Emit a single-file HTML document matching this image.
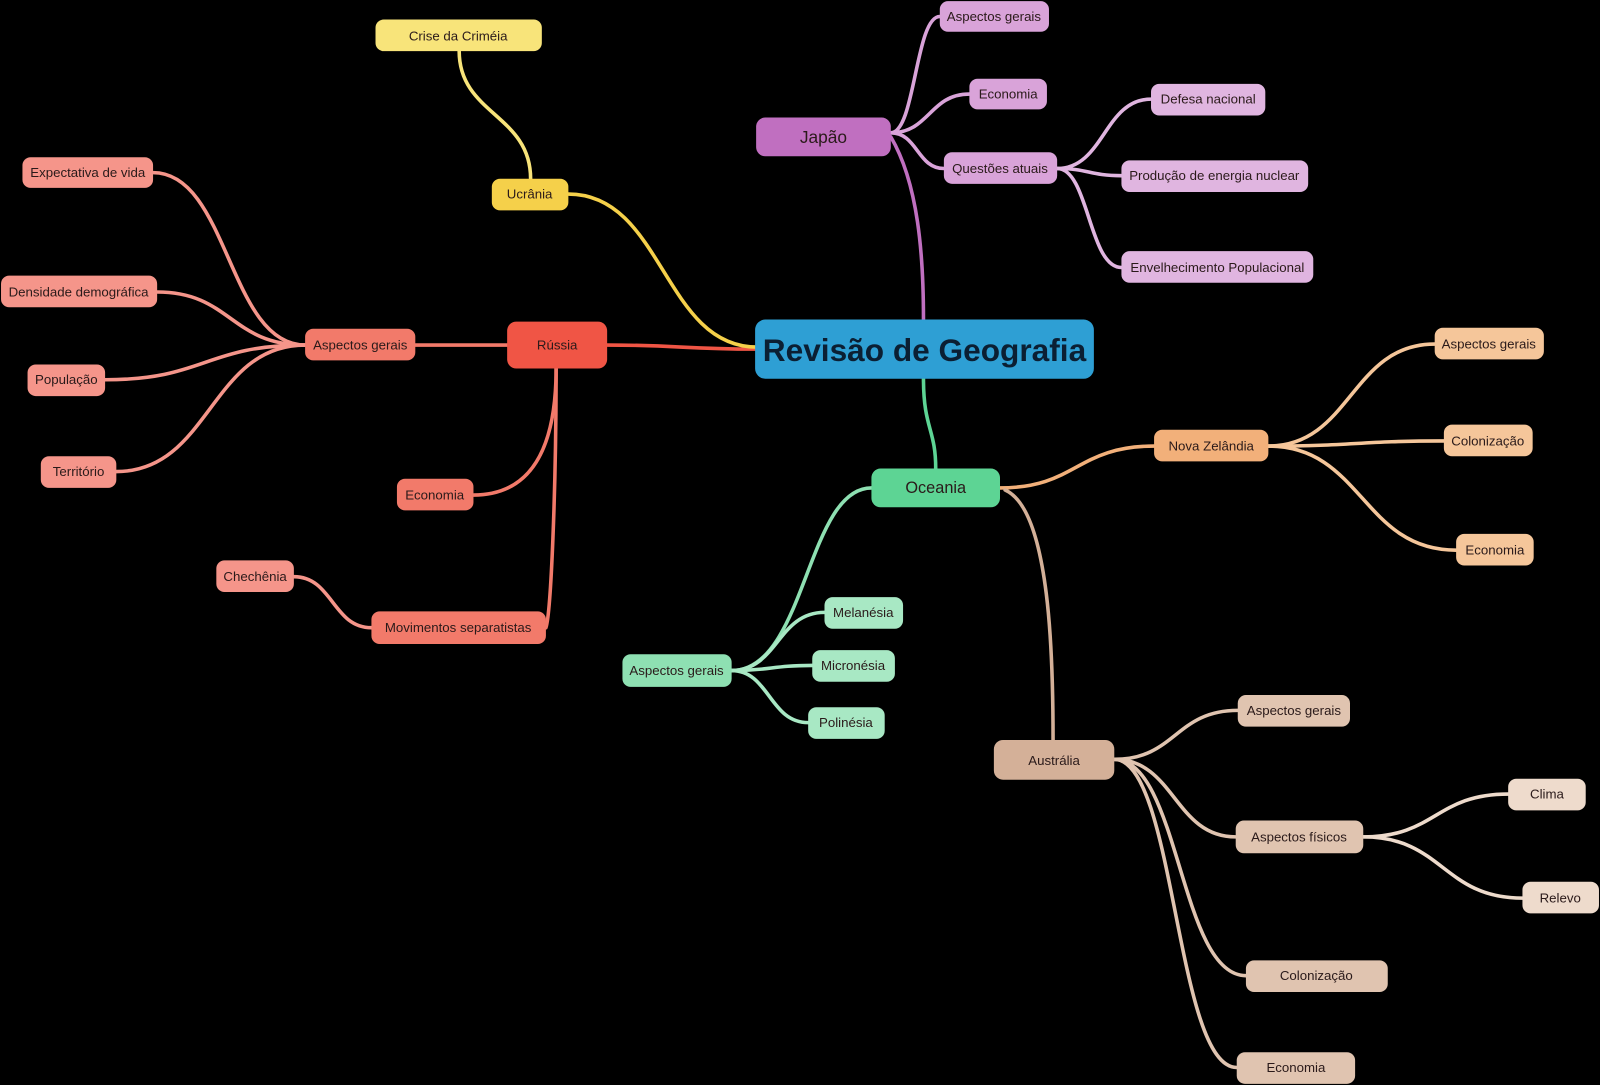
<!DOCTYPE html>
<html><head><meta charset="utf-8"><style>
html,body{margin:0;padding:0;background:#000;width:1600px;height:1085px;overflow:hidden}
text{font-family:"Liberation Sans",sans-serif;fill:#2a1a1a;text-anchor:middle;dominant-baseline:central;font-size:13px}
path{fill:none;stroke-width:3.5;stroke-linecap:round}
</style></head><body>
<svg width="1600" height="1085" viewBox="0 0 1568 1063" xmlns="http://www.w3.org/2000/svg">
<rect width="1568" height="1063" fill="#000"/>
<!-- edges -->
<path d="M595 338 C667 338 667 342 742 342" stroke="#f05545" stroke-width="4"/>
<path d="M557 190 C650 190 650 340 742 340" stroke="#f5d04a"/>
<path d="M450 50 C450 112 520 112 520 175" stroke="#f8e47a"/>
<path d="M873 134 C900 180 905 250 905 313" stroke="#c06fc0" stroke-width="4"/>
<path d="M873 130 C897 130 897 16 921 16" stroke="#d9a3d9"/>
<path d="M873 130 C911 130 911 92 950 92" stroke="#d9a3d9"/>
<path d="M873 130 C899 130 899 165 925 165" stroke="#d9a3d9"/>
<path d="M1036 165 C1082 165 1082 97 1128 97" stroke="#e0b5e0"/>
<path d="M1036 165 C1067 165 1067 172 1099 172" stroke="#e0b5e0"/>
<path d="M1036 165 C1067 165 1067 262 1099 262" stroke="#e0b5e0"/>
<path d="M497 338 L407 338" stroke="#f27a6a"/>
<path d="M299 338 C224 338 224 169 150 169" stroke="#f5958a"/>
<path d="M299 338 C226 338 226 286 154 286" stroke="#f5958a"/>
<path d="M299 338 C201 338 201 372 103 372" stroke="#f5958a"/>
<path d="M299 338 C206 338 206 462 114 462" stroke="#f5958a"/>
<path d="M545 361 C545 440 520 485 464 485" stroke="#f27a6a"/>
<path d="M545 361 C545 480 540 600 535 615" stroke="#f27a6a"/>
<path d="M364 615 C326 615 326 565 288 565" stroke="#f5958a"/>
<path d="M905 371 C905 420 917 420 917 459" stroke="#5dd494"/>
<path d="M854 478 C790 478 790 657 717 657" stroke="#8ee0b2"/>
<path d="M717 657 C762 657 762 600 808 600" stroke="#a8e8c4"/>
<path d="M717 657 C756 657 756 652 796 652" stroke="#a8e8c4"/>
<path d="M717 657 C754 657 754 708 792 708" stroke="#a8e8c4"/>
<path d="M980 478 C1055 478 1055 437 1131 437" stroke="#f2b07a" stroke-width="4"/>
<path d="M1243 437 C1324 437 1324 337 1406 337" stroke="#f5c69a"/>
<path d="M1243 437 C1329 437 1329 432 1415 432" stroke="#f5c69a"/>
<path d="M1243 437 C1335 437 1335 539 1427 539" stroke="#f5c69a"/>
<path d="M985 480 C1030 500 1032 650 1032 725" stroke="#d4b098"/>
<path d="M1092 744 C1152 744 1152 696 1213 696" stroke="#e0c4b0"/>
<path d="M1092 744 C1151 744 1151 820 1211 820" stroke="#e0c4b0"/>
<path d="M1092 744 C1156 744 1156 956 1221 956" stroke="#e0c4b0"/>
<path d="M1092 744 C1152 744 1152 1046 1212 1046" stroke="#e0c4b0"/>
<path d="M1336 820 C1407 820 1407 778 1478 778" stroke="#eedbcc"/>
<path d="M1336 820 C1414 820 1414 880 1492 880" stroke="#eedbcc"/>
<!-- nodes -->
<rect x="740" y="313" width="332" height="58" rx="10" fill="#2e9fd4"/>
<text x="906" y="343" style="font-size:31px;font-weight:bold;fill:#0b1f33">Revisão de Geografia</text>
<rect x="741" y="115" width="132" height="38" rx="9" fill="#c06fc0"/><text x="807" y="134" style="font-size:17px">Japão</text>
<rect x="921" y="1" width="107" height="30" rx="8" fill="#d9a3d9"/><text x="974" y="16">Aspectos gerais</text>
<rect x="950" y="77" width="76" height="30" rx="8" fill="#d9a3d9"/><text x="988" y="92">Economia</text>
<rect x="925" y="149" width="111" height="31" rx="8" fill="#d9a3d9"/><text x="980" y="165">Questões atuais</text>
<rect x="1128" y="82" width="112" height="31" rx="8" fill="#e0b5e0"/><text x="1184" y="97">Defesa nacional</text>
<rect x="1099" y="157" width="183" height="31" rx="8" fill="#e0b5e0"/><text x="1190" y="172">Produção de energia nuclear</text>
<rect x="1099" y="246" width="188" height="31" rx="8" fill="#e0b5e0"/><text x="1193" y="262">Envelhecimento Populacional</text>
<rect x="497" y="315" width="98" height="46" rx="9" fill="#f05545"/><text x="546" y="338">Rússia</text>
<rect x="482" y="175" width="75" height="31" rx="8" fill="#f5d04a"/><text x="519" y="190">Ucrânia</text>
<rect x="368" y="19" width="163" height="31" rx="8" fill="#f8e47a"/><text x="449" y="35">Crise da Criméia</text>
<rect x="299" y="322" width="108" height="31" rx="8" fill="#f27a6a"/><text x="353" y="338">Aspectos gerais</text>
<rect x="22" y="154" width="128" height="30" rx="8" fill="#f5958a"/><text x="86" y="169">Expectativa de vida</text>
<rect x="1" y="270" width="153" height="31" rx="8" fill="#f5958a"/><text x="77" y="286">Densidade demográfica</text>
<rect x="27" y="357" width="76" height="31" rx="8" fill="#f5958a"/><text x="65" y="372">População</text>
<rect x="40" y="447" width="74" height="31" rx="8" fill="#f5958a"/><text x="77" y="462">Território</text>
<rect x="389" y="469" width="75" height="31" rx="8" fill="#f27a6a"/><text x="426" y="485">Economia</text>
<rect x="364" y="599" width="171" height="32" rx="8" fill="#f27a6a"/><text x="449" y="615">Movimentos separatistas</text>
<rect x="212" y="549" width="76" height="31" rx="8" fill="#f5958a"/><text x="250" y="565">Chechênia</text>
<rect x="854" y="459" width="126" height="38" rx="9" fill="#5dd494"/><text x="917" y="478" style="font-size:16px">Oceania</text>
<rect x="610" y="641" width="107" height="32" rx="8" fill="#8ee0b2"/><text x="663" y="657">Aspectos gerais</text>
<rect x="808" y="585" width="77" height="31" rx="8" fill="#a8e8c4"/><text x="846" y="600">Melanésia</text>
<rect x="796" y="637" width="81" height="31" rx="8" fill="#a8e8c4"/><text x="836" y="652">Micronésia</text>
<rect x="792" y="693" width="75" height="31" rx="8" fill="#a8e8c4"/><text x="829" y="708">Polinésia</text>
<rect x="1131" y="421" width="112" height="31" rx="8" fill="#f2b07a"/><text x="1187" y="437">Nova Zelândia</text>
<rect x="1406" y="321" width="107" height="31" rx="8" fill="#f5c69a"/><text x="1459" y="337">Aspectos gerais</text>
<rect x="1415" y="416" width="87" height="31" rx="8" fill="#f5c69a"/><text x="1458" y="432">Colonização</text>
<rect x="1427" y="523" width="76" height="31" rx="8" fill="#f5c69a"/><text x="1465" y="539">Economia</text>
<rect x="974" y="725" width="118" height="39" rx="9" fill="#d4b098"/><text x="1033" y="745">Austrália</text>
<rect x="1213" y="681" width="110" height="31" rx="8" fill="#e0c4b0"/><text x="1268" y="696">Aspectos gerais</text>
<rect x="1211" y="804" width="125" height="32" rx="8" fill="#e0c4b0"/><text x="1273" y="820">Aspectos físicos</text>
<rect x="1221" y="941" width="139" height="31" rx="8" fill="#e0c4b0"/><text x="1290" y="956">Colonização</text>
<rect x="1212" y="1031" width="116" height="31" rx="8" fill="#e0c4b0"/><text x="1270" y="1046">Economia</text>
<rect x="1478" y="763" width="76" height="31" rx="8" fill="#eedbcc"/><text x="1516" y="778">Clima</text>
<rect x="1492" y="864" width="75" height="31" rx="8" fill="#eedbcc"/><text x="1529" y="880">Relevo</text>
</svg>
</body></html>
